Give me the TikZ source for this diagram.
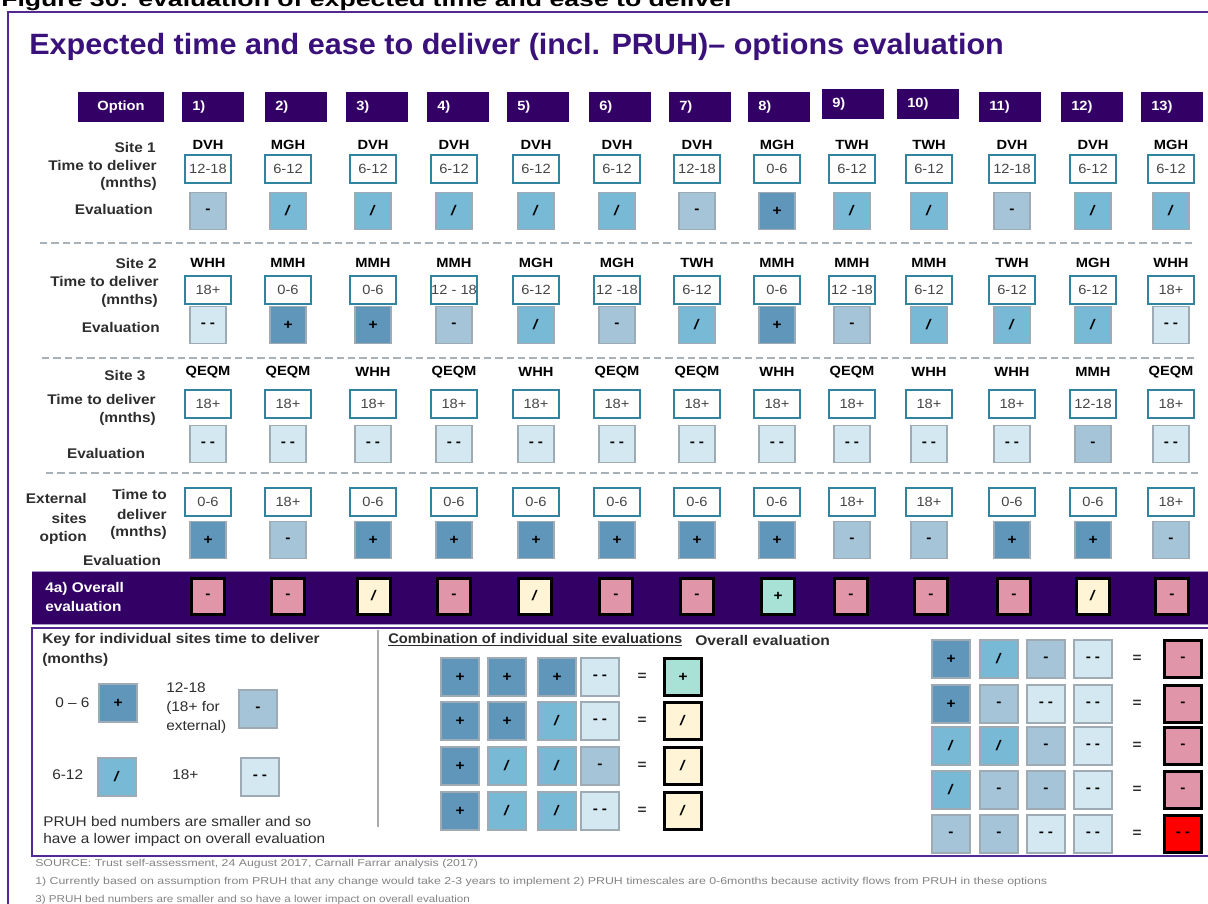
\documentclass[tikz,border=0pt]{standalone}
\usepackage{fontspec}
\setmainfont{Liberation Sans}[FakeStretch=1.1]
\usepackage{graphicx}
\definecolor{purp}{RGB}{51,0,102}
\definecolor{titlec}{RGB}{58,16,122}
\definecolor{framec}{RGB}{84,40,146}
\definecolor{lav}{RGB}{170,150,200}
\definecolor{cP}{RGB}{96,150,186}
\definecolor{cS}{RGB}{120,185,214}
\definecolor{cM}{RGB}{166,196,216}
\definecolor{cD}{RGB}{211,232,241}
\definecolor{evb}{RGB}{158,170,180}
\definecolor{tbord}{RGB}{50,132,158}
\definecolor{oM}{RGB}{224,150,168}
\definecolor{oS}{RGB}{255,244,214}
\definecolor{oP}{RGB}{168,226,214}
\definecolor{oD}{RGB}{255,0,0}
\definecolor{txt}{RGB}{45,45,45}
\definecolor{ttxt}{RGB}{70,70,70}
\definecolor{dashc}{RGB}{168,176,184}
\definecolor{footc}{RGB}{130,130,130}
\definecolor{sepc}{RGB}{170,170,170}
\newcommand\fitw[2]{\resizebox{#1}{\height}{#2}}
\def\symP{+}\def\symS{\textit{/}}\def\symM{-}\def\symD{-\hspace{3pt}-}
\tikzset{
  lbl/.style={font=\bfseries\fontsize{10.5}{12}\selectfont, text=txt, inner sep=0pt},
  nm/.style={font=\bfseries\fontsize{10}{12}\selectfont, text=black, inner sep=0pt},
  tbox/.style={draw=tbord, line width=1.5pt, fill=white, minimum width=35pt, minimum height=21.5pt, inner sep=0pt, font=\fontsize{10}{12}\selectfont, text=ttxt},
  ebox/.style={draw=evb, line width=1pt, minimum width=27pt, minimum height=28pt, inner sep=0pt, font=\bfseries\fontsize{10.5}{12}\selectfont, text=black},
  obox/.style={draw=black, line width=2.25pt, minimum width=25pt, minimum height=27pt, inner sep=0pt, font=\bfseries\fontsize{10.5}{12}\selectfont, text=black},
  kbox/.style={draw=evb, line width=1pt, minimum size=28.5pt, inner sep=0pt, font=\bfseries\fontsize{10.5}{12}\selectfont, text=black},
  kres/.style={draw=black, line width=2.25pt, minimum size=27.5pt, inner sep=0pt, font=\bfseries\fontsize{10.5}{12}\selectfont, text=black},
  eqs/.style={font=\bfseries\fontsize{10.5}{12}\selectfont, text=txt, inner sep=0pt},
  hdr/.style={fill=purp, text=white, font=\bfseries\fontsize{10}{12}\selectfont, anchor=west, inner xsep=7.5pt, inner ysep=0pt, text width=31.5pt, minimum height=23pt, align=left},
  hdrc/.style={fill=purp, text=white, font=\bfseries\fontsize{10}{12}\selectfont, minimum width=64.5pt, minimum height=23pt, inner sep=0pt},
  dline/.style={draw=dashc, line width=1.1pt, dash pattern=on 5.5pt off 3pt},
  ktxt/.style={font=\fontsize{10.5}{12}\selectfont, text=txt, inner sep=0pt, anchor=west},
  kbold/.style={font=\bfseries\fontsize{10.5}{12}\selectfont, text=txt, inner sep=0pt, anchor=west},
  foot/.style={font=\fontsize{7.5}{9}\selectfont, text=footc, inner sep=0pt, anchor=west},
}
\begin{document}
\begin{tikzpicture}[x=0.75pt,y=-0.75pt]
\path[use as bounding box] (0,0) rectangle (1208,904);

% clipped caption and frame
\node[anchor=base west, inner sep=0pt, font=\bfseries\fontsize{15}{18}\selectfont] (cap) at (1,6) {\fitw{550pt}{Figure 30: evaluation of expected time and ease to deliver}};
\draw[framec, line width=1.5pt] (1215,12) -- (7.5,12) -- (7.5,915);

% title
\node[anchor=base west, inner sep=0pt, text=titlec, font=\bfseries\fontsize{22}{26}\selectfont] (title) at (29,54) {\fitw{731pt}{Expected time and ease to deliver (incl. PRUH)– options evaluation}};

% header row
\node[hdrc] (hopt) at (121,107) {Option};
\foreach \i/\L/\yy in {1/182/107, 2/265/107, 3/346/107, 4/427/107, 5/507/107, 6/589/107, 7/669/107, 8/748/107, 9/822/104, 10/897/104, 11/979/107, 12/1061/107, 13/1141/107}
  \node[hdr] (h\i) at (\L,\yy) {\i)};

% row labels
\node[lbl, anchor=east] (s1a) at (156,147) {Site 1};
\node[lbl, anchor=east] (s1b) at (157,165) {Time to deliver};
\node[lbl, anchor=east] (s1c) at (157,184) {(mnths)};
\node[lbl, anchor=east] (s1d) at (153,209) {Evaluation};
\node[lbl, anchor=east] (s2a) at (157,263) {Site 2};
\node[lbl, anchor=east] (s2b) at (159,281) {Time to deliver};
\node[lbl, anchor=east] (s2c) at (158,301) {(mnths)};
\node[lbl, anchor=east] (s2d) at (160,327) {Evaluation};
\node[lbl] (s3a) at (125,375) {Site 3};
\node[lbl, anchor=east] (s3b) at (156,399) {Time to deliver};
\node[lbl, anchor=east] (s3c) at (156,419) {(mnths)};
\node[lbl] (s3d) at (106,453) {Evaluation};
\node[lbl, anchor=east] (x1) at (87,498) {External};
\node[lbl, anchor=east] (x2) at (87,518) {sites};
\node[lbl, anchor=east] (x3) at (87,538) {option};
\node[lbl, anchor=east] (x4) at (167,494) {Time to};
\node[lbl, anchor=east] (x5) at (167,514) {deliver};
\node[lbl, anchor=east] (x6) at (167,533) {(mnths)};
\node[lbl] (x7) at (122,560) {Evaluation};

% dashed separators
\coordinate (d1a) at (40,243); \coordinate (d1b) at (1193,243);
\coordinate (d2a) at (42,358); \coordinate (d2b) at (1195,358);
\coordinate (d3a) at (46,473); \coordinate (d3b) at (1198,473);
\draw[dline] (d1a) -- (d1b);
\draw[dline] (d2a) -- (d2b);
\draw[dline] (d3a) -- (d3b);

% site 1
\foreach \i/\x/\nm/\tm/\ev in {1/208/DVH/12-18/M, 2/288/MGH/6-12/S, 3/373/DVH/6-12/S, 4/454/DVH/6-12/S, 5/536/DVH/6-12/S, 6/617/DVH/6-12/S, 7/697/DVH/12-18/M, 8/777/MGH/0-6/P, 9/852/TWH/6-12/S, 10/929/TWH/6-12/S, 11/1012/DVH/12-18/M, 12/1093/DVH/6-12/S, 13/1171/MGH/6-12/S}
{
  \node[nm] (n1-\i) at (\x,145) {\nm};
  \node[tbox] (t1-\i) at (\x,169) {\tm};
  \node[ebox, fill=c\ev] (e1-\i) at (\x,211) {\csname sym\ev\endcsname};
}
% site 2
\foreach \i/\x/\nm/\tm/\ev in {1/208/WHH/18+/D, 2/288/MMH/0-6/P, 3/373/MMH/0-6/P, 4/454/MMH/12 - 18/M, 5/536/MGH/6-12/S, 6/617/MGH/12 -18/M, 7/697/TWH/6-12/S, 8/777/MMH/0-6/P, 9/852/MMH/12 -18/M, 10/929/MMH/6-12/S, 11/1012/TWH/6-12/S, 12/1093/MGH/6-12/S, 13/1171/WHH/18+/D}
{
  \node[nm] (n2-\i) at (\x,263) {\nm};
  \node[tbox] (t2-\i) at (\x,290) {\tm};
  \node[ebox, fill=c\ev] (e2-\i) at (\x,325) {\csname sym\ev\endcsname};
}
% site 3
\foreach \i/\x/\nm/\tm/\ev in {1/208/QEQM/18+/D, 2/288/QEQM/18+/D, 3/373/WHH/18+/D, 4/454/QEQM/18+/D, 5/536/WHH/18+/D, 6/617/QEQM/18+/D, 7/697/QEQM/18+/D, 8/777/WHH/18+/D, 9/852/QEQM/18+/D, 10/929/WHH/18+/D, 11/1012/WHH/18+/D, 12/1093/MMH/12-18/M, 13/1171/QEQM/18+/D}
{
  \node[nm] (n3-\i) at (\x,372) {\nm};
  \node[tbox] (t3-\i) at (\x,404) {\tm};
  \node[ebox, fill=c\ev] (e3-\i) at (\x,444) {\csname sym\ev\endcsname};
}
% external
\foreach \i/\x/\tm/\ev in {1/208/0-6/P, 2/288/18+/M, 3/373/0-6/P, 4/454/0-6/P, 5/536/0-6/P, 6/617/0-6/P, 7/697/0-6/P, 8/777/0-6/P, 9/852/18+/M, 10/929/18+/M, 11/1012/0-6/P, 12/1093/0-6/P, 13/1171/18+/M}
{
  \node[tbox] (t4-\i) at (\x,502) {\tm};
  \node[ebox, fill=c\ev] (e4-\i) at (\x,540) {\csname sym\ev\endcsname};
}

% overall band
\fill[purp] (32,571) rectangle (1212,625);
\draw[lav, line width=0.6pt] (32,571.5) -- (1212,571.5);
\draw[lav, line width=0.6pt] (32,624.5) -- (1212,624.5);
\node[anchor=west, inner sep=0pt, align=left, text=white, font=\bfseries\fontsize{10.5}{14.5}\selectfont] (ovl) at (45,597) {4a) Overall\\evaluation};
\foreach \i/\x/\ev in {1/208/M, 2/288/M, 3/374/S, 4/454/M, 5/535/S, 6/616/M, 7/697/M, 8/778/P, 9/851/M, 10/931/M, 11/1014/M, 12/1093/S, 13/1172/M}
  \node[obox, fill=o\ev] (o\i) at (\x,596) {\csname sym\ev\endcsname};

% key frame
\draw[framec, line width=1.2pt] (1215,628) -- (32,628) -- (32,856) -- (1215,856);
\coordinate (sepa) at (378,630); \coordinate (sepb) at (378,827);
\draw[sepc, line width=1.2pt] (sepa) -- (sepb);

% key left
\node[kbold] (k1) at (42,640) {\fitw{208pt}{Key for individual sites time to deliver}};
\node[kbold] (k2) at (42,660) {(months)};
\node[ktxt] (k3) at (55,703) {0 – 6};
\node[kbox, fill=cP] (kb1) at (118,703) {\symP};
\node[ktxt] (k4) at (166,688) {12-18};
\node[ktxt] (k5) at (166,708) {(18+ for};
\node[ktxt] (k6) at (166,727) {external)};
\node[kbox, fill=cM] (kb2) at (258,709) {\symM};
\node[ktxt] (k7) at (52,775) {6-12};
\node[kbox, fill=cS] (kb3) at (117,777) {\symS};
\node[ktxt] (k8) at (172,775) {18+};
\node[kbox, fill=cD] (kb4) at (260,777) {\symD};
\node[ktxt] (k9) at (43,821) {\fitw{201pt}{PRUH bed numbers are smaller and so}};
\node[ktxt] (k10) at (43,840) {\fitw{211.5pt}{have a lower impact on overall evaluation}};

% key middle
\node[kbold] (c1) at (388,640) {\fitw{220.5pt}{\underline{Combination of individual site evaluations}}};
\node[kbold] (c2) at (695,640) {\fitw{101pt}{Overall evaluation}};
\foreach \r/\y/\a/\b/\c/\d/\res in {1/677/P/P/P/D/P, 2/721/P/P/S/D/S, 3/766/P/S/S/M/S, 4/811/P/S/S/D/S}
{
  \node[kbox, fill=c\a] (l\r a) at (460,\y) {\csname sym\a\endcsname};
  \node[kbox, fill=c\b] (l\r b) at (507,\y) {\csname sym\b\endcsname};
  \node[kbox, fill=c\c] (l\r c) at (557,\y) {\csname sym\c\endcsname};
  \node[kbox, fill=c\d] (l\r d) at (600,\y) {\csname sym\d\endcsname};
  \node[eqs] (l\r e) at (642,\y) {=};
  \node[kres, fill=o\res] (l\r r) at (683,\y) {\csname sym\res\endcsname};
}
% key right
\foreach \r/\y/\a/\b/\c/\d/\res in {1/659/P/S/M/D/M, 2/704/P/M/D/D/M, 3/746/S/S/M/D/M, 4/790/S/M/M/D/M, 5/834/M/M/D/D/D}
{
  \node[kbox, fill=c\a] (r\r a) at (951,\y) {\csname sym\a\endcsname};
  \node[kbox, fill=c\b] (r\r b) at (999,\y) {\csname sym\b\endcsname};
  \node[kbox, fill=c\c] (r\r c) at (1046,\y) {\csname sym\c\endcsname};
  \node[kbox, fill=c\d] (r\r d) at (1093,\y) {\csname sym\d\endcsname};
  \node[eqs] (r\r e) at (1137,\y) {=};
  \node[kres, fill=o\res] (r\r r) at (1183,\y) {\csname sym\res\endcsname};
}

% footnotes
\node[foot] (f1) at (35,864) {\fitw{332pt}{SOURCE: Trust self-assessment, 24 August 2017, Carnall Farrar analysis (2017)}};
\node[foot] (f2) at (35,882) {\fitw{759pt}{1) Currently based on assumption from PRUH that any change would take 2-3 years to implement 2) PRUH timescales are 0-6months because activity flows from PRUH in these options}};
\node[foot] (f3) at (35,900) {\fitw{326pt}{3) PRUH bed numbers are smaller and so have a lower impact on overall evaluation}};
\end{tikzpicture}
\end{document}
